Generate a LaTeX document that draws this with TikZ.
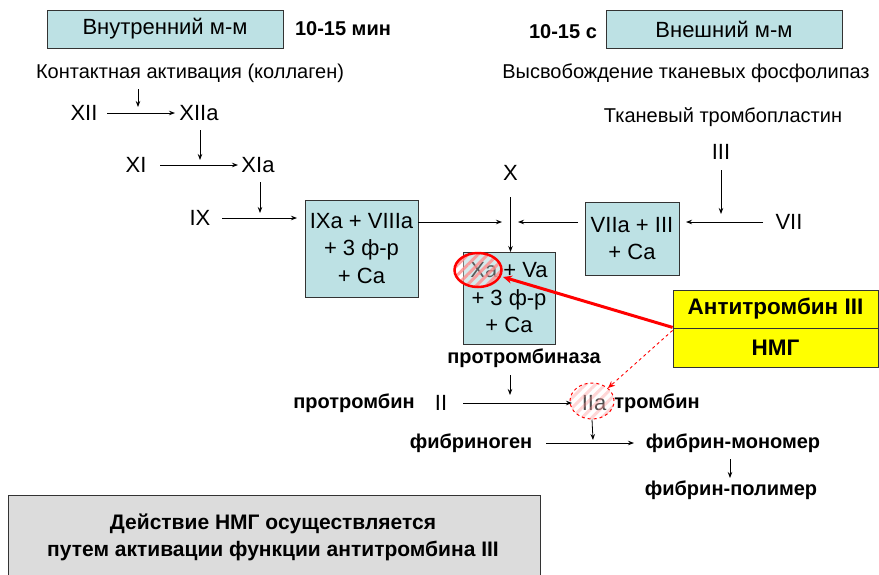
\documentclass[tikz,border=0pt]{standalone}
\usepackage{fontspec}
\setmainfont{Liberation Sans}
\usetikzlibrary{arrows.meta,calc,patterns.meta,shapes.geometric}
\definecolor{boxblue}{HTML}{BDE1E4}
\definecolor{boxgray}{HTML}{DCDCDC}
\definecolor{yel}{HTML}{FFFF00}
\begin{document}
\begin{tikzpicture}[x=1pt,y=-1pt,
  reg/.style={inner sep=0pt,font=\fontsize{20}{27}\selectfont},
  big/.style={inner sep=0pt,font=\fontsize{22}{27}\selectfont},
  bld/.style={inner sep=0pt,font=\fontsize{20}{27}\selectfont\bfseries},
  bluebox/.style={draw=black!80,line width=0.8pt,fill=boxblue,align=center,inner sep=0pt,font=\fontsize{22}{27.5}\selectfont},
  yelbox/.style={draw=black!80,line width=0.8pt,fill=yel,minimum width=205,inner sep=0pt,font=\fontsize{22.5}{24}\selectfont\bfseries},
  arr/.style={-{Stealth[length=6pt,width=4.5pt]},line width=0.8pt},
  redarr/.style={-{Stealth[length=9pt,width=8pt]},line width=3pt,red},
  dasharr/.style={-{Stealth[length=7pt,width=6pt]},line width=0.9pt,red,dashed},
  hatch/.style={pattern={Lines[angle=45,distance=7pt,line width=3pt]},pattern color=red!45}
]
\useasboundingbox (0,0) rectangle (879,574);
% header boxes
\node[bluebox,minimum width=236,minimum height=38] (intbox) at (165,29) {Внутренний м-м};
\node[bld] (t1) at (343,29) {10-15 мин};
\node[bld] (t2) at (563,32) {10-15 с};
\node[bluebox,minimum width=236,minimum height=38] (extbox) at (724,29) {Внешний м-м};
\node[reg] (contact) at (190,73) {Контактная активация (коллаген)};
\node[reg] (release) at (686,73) {Высвобождение тканевых фосфолипаз};
% intrinsic cascade
\node[big] (XII) at (84,113) {XII};
\node[big] (XIIa) at (199,113) {XIIa};
\node[big] (XI) at (136,165) {XI};
\node[big] (XIa) at (258,165) {XIa};
\node[big] (IX) at (200,218) {IX};
\node[bluebox,minimum width=113,minimum height=97] (box9) at (361.5,248.5) {IXa + VIIIa\\+ 3 ф-р\\+ Ca};
% X
\node[big] (X) at (510.5,173) {X};
\node[bluebox,minimum width=92,minimum height=92] (box10) at (509,298) {Xa + Va\\+ 3 ф-р\\+ Ca};
% extrinsic
\node[reg] (tissue) at (723,117) {Тканевый тромбопластин};
\node[big] (III) at (721,152) {III};
\node[big] (VII) at (789,222) {VII};
\node[bluebox,minimum width=94,minimum height=73] (box7) at (632,238.5) {VIIa + III\\+ Ca};
% yellow
\node[yelbox,minimum height=38] (at3) at (775.5,309) {Антитромбин III};
\node[yelbox,minimum height=39] (nmg) at (775.5,347.5) {НМГ};
% lower part
\node[bld] (ptase) at (524,358) {протромбиназа};
\node[bld] (pthr) at (354,403) {протромбин};
\node[big] (II) at (441,403) {II};
\node[big] (IIa) at (594,403) {IIa};
\node[bld] (thr) at (657,403) {тромбин};
\node[bld] (fgen) at (471,443) {фибриноген};
\node[bld] (mono) at (733,443) {фибрин-мономер};
\node[bld] (poly) at (731,490) {фибрин-полимер};
% gray box
\node[draw=black!80,line width=0.8pt,fill=boxgray,minimum width=532,minimum height=90,anchor=north west,inner sep=0pt] (gbox) at (8,495) {};
\node[align=center,inner sep=0pt,font=\fontsize{21}{27}\selectfont\bfseries] (gtext) at (273,537) {Действие НМГ осуществляется\\путем активации функции антитромбина III};
% highlight ellipses
\fill[white,opacity=0.35] (478,270) ellipse [x radius=23.5,y radius=17];
\fill[hatch,opacity=0.8] (478,270) ellipse [x radius=23.5,y radius=17];
\node[draw=red,line width=2.5pt,ellipse,minimum width=47,minimum height=34,inner sep=0pt] (xa) at (478,270) {};
\coordinate (xaE) at (503,277);
\fill[white,opacity=0.3] (592,401) ellipse [x radius=22,y radius=18];
\fill[hatch,opacity=0.35] (592,401) ellipse [x radius=22,y radius=18];
\node[draw=red,dashed,line width=1pt,ellipse,minimum width=44,minimum height=36,inner sep=0pt] (iiacirc) at (592,401) {};
\coordinate (iiaNE) at (608,388);
% connector end points
\coordinate (a1s) at (138,89);  \coordinate (a1e) at (138,107);
\coordinate (a2s) at (107,113); \coordinate (a2e) at (175,113);
\coordinate (a3s) at (200,130); \coordinate (a3e) at (200,160);
\coordinate (a4s) at (160,165); \coordinate (a4e) at (238,165);
\coordinate (a5s) at (260,182); \coordinate (a5e) at (260,213);
\coordinate (a6s) at (222,218); \coordinate (a6e) at (297,218);
\coordinate (a7e) at (502,222);
\coordinate (a8s) at (510.5,197); \coordinate (a8e) at (510.5,252);
\coordinate (a9s) at (578,222); \coordinate (a9e) at (518,222);
\coordinate (a10s) at (721,170); \coordinate (a10e) at (721,214);
\coordinate (a11s) at (763,222); \coordinate (a11e) at (686,222);
\coordinate (a12s) at (510,375); \coordinate (a12e) at (510,395);
\coordinate (a13s) at (463,403); \coordinate (a13e) at (572,403);
\coordinate (a14e) at (593,440);
\coordinate (a15s) at (546,443); \coordinate (a15e) at (634,443);
\coordinate (a16s) at (730,459); \coordinate (a16e) at (730,478);
\draw[arr] (a1s) -- (a1e);
\draw[arr] (a2s) -- (a2e);
\draw[arr] (a3s) -- (a3e);
\draw[arr] (a4s) -- (a4e);
\draw[arr] (a5s) -- (a5e);
\draw[arr] (a6s) -- (a6e);
\draw[arr] (box9.east |- a7e) -- (a7e);
\draw[arr] (a8s) -- (a8e);
\draw[arr] (a9s) -- (a9e);
\draw[arr] (a10s) -- (a10e);
\draw[arr] (a11s) -- (a11e);
\draw[arr] (a12s) -- (a12e);
\draw[arr] (a13s) -- (a13e);
\draw[arr] (iiacirc.south) -- (a14e);
\draw[arr] (a15s) -- (a15e);
\draw[arr] (a16s) -- (a16e);
\draw[redarr] ($(at3.south west)+(0,-1)$) -- (xaE);
\draw[dasharr] ($(at3.south west)+(0,2)$) -- (iiaNE);
\end{tikzpicture}
\end{document}
